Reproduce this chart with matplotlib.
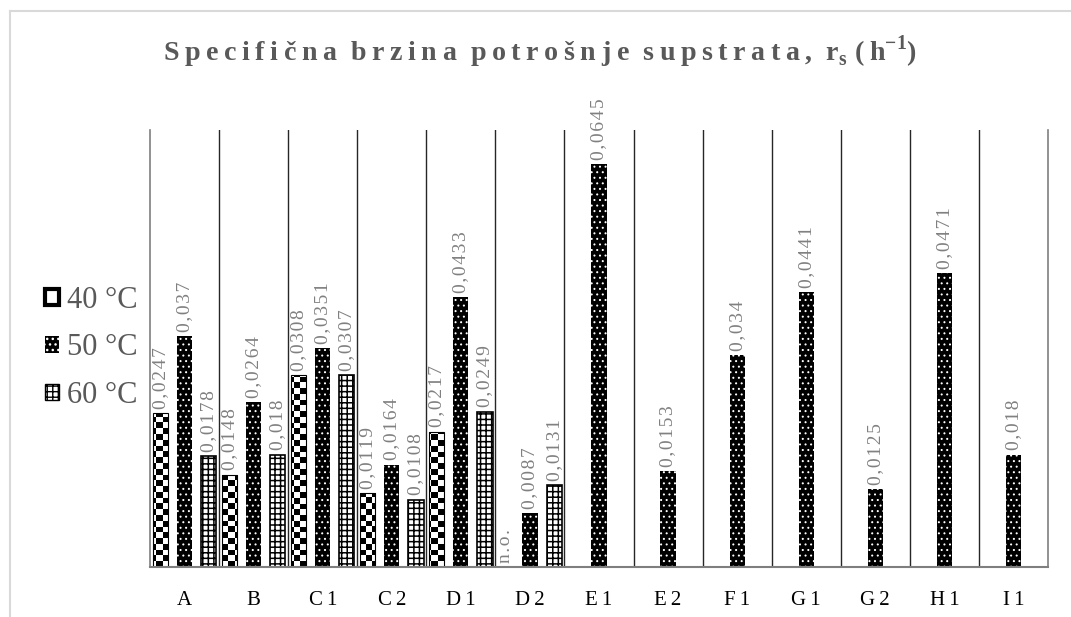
import numpy as np
import matplotlib
matplotlib.use("Agg")
import matplotlib.pyplot as plt
from matplotlib.patches import Patch
from matplotlib.lines import Line2D

plt.rcParams['font.family'] = ['Liberation Serif', 'DejaVu Serif']
plt.rcParams['mathtext.fontset'] = 'custom'
plt.rcParams['mathtext.rm'] = 'Liberation Serif'
plt.rcParams['mathtext.bf'] = 'Liberation Serif:bold'

categories = ["A", "B", "C1", "C2", "D1", "D2", "E1", "E2", "F1", "G1", "G2", "H1", "I1"]
nan = np.nan
r40 = [0.0247, 0.0148, 0.0308, 0.0119, 0.0217, nan, nan, nan, nan, nan, nan, nan, nan]
r50 = [0.037, 0.0264, 0.0351, 0.0164, 0.0433, 0.0087, 0.0645, 0.0153, 0.034, 0.0441, 0.0125, 0.0471, 0.018]
r60 = [0.0178, 0.018, 0.0307, 0.0108, 0.0249, 0.0131, nan, nan, nan, nan, nan, nan, nan]
not_observed = ["D2"]   # 40 °C, "n.o."
series_names = ["40 °C", "50 °C", "60 °C"]

YMAX = 0.07
label_grey = "#808080"
text_grey = "#595959"
HAIR = "\u200a"
THIN = "\u2009"


def spaced(s, sep=HAIR):
    # fake the letter spacing of the original
    return sep.join(s)


fig = plt.figure(figsize=(10.71, 6.17), dpi=100)
ax = fig.add_axes([150 / 1071, 1 - 567 / 617, 898 / 1071, 437 / 617])

x = np.arange(len(categories))
offsets = [-0.35, 0.0, 0.35]
w = 0.22

# checkerboard texture used for 40 °C bars
checker = np.indices((76, 150)).sum(axis=0) % 2

bars40 = ax.bar(x + offsets[0], np.nan_to_num(r40), w, facecolor="none",
                edgecolor="black", linewidth=0.8, zorder=2)
for b, v in zip(bars40, r40):
    if np.isnan(v):
        b.set_visible(False)
        continue
    im = ax.imshow(checker, cmap="gray", extent=[-0.5, len(categories) - 0.5, 0, YMAX],
                   aspect="auto", interpolation="nearest", zorder=1.5)
    im.set_clip_path(b)

with plt.rc_context({"hatch.linewidth": 0.7}):
    bars50 = ax.bar(x + offsets[1], r50, w, facecolor="black", edgecolor="white",
                    hatch="...", linewidth=0, zorder=2)
    h50 = Patch(facecolor="black", edgecolor="white", hatch="...", linewidth=0)
with plt.rc_context({"hatch.linewidth": 1.1}):
    bars60 = ax.bar(x + offsets[2], np.nan_to_num(r60), w, facecolor="white",
                    edgecolor="black", hatch="+++", linewidth=1.2, zorder=2)
for b, v in zip(bars60, r60):
    if np.isnan(v):
        b.set_visible(False)

# value labels
for vals, off in zip([r40, r50, r60], offsets):
    for xi, v in zip(x, vals):
        if np.isnan(v):
            continue
        ax.annotate(spaced(str(v).replace(".", ",")), (xi + off, v), xytext=(0, 3),
                    textcoords="offset points", rotation=90, ha="center", va="bottom",
                    fontsize=14, color=label_grey)
for c in not_observed:
    xi = categories.index(c)
    ax.annotate(spaced("n.o."), (xi + offsets[0], 0), xytext=(0, 3),
                textcoords="offset points", rotation=90, ha="center", va="bottom",
                fontsize=14, color=label_grey)

# category separators
for b in np.arange(0.5, len(categories) - 1, 1.0):
    ax.axvline(b, color="#262626", linewidth=1.0, zorder=0.5)

ax.set_xlim(-0.5, len(categories) - 0.5)
ax.set_ylim(0, YMAX)
ax.set_yticks([])
ax.set_xticks(x)
ax.set_xticklabels([spaced(c, THIN) for c in categories], fontsize=15, color="black")
ax.tick_params(axis="x", length=0, pad=17)
for s in ["left", "right"]:
    ax.spines[s].set_color("#7f7f7f")
    ax.spines[s].set_linewidth(1.2)
ax.spines["bottom"].set_color("#7f7f7f")
ax.spines["bottom"].set_linewidth(1.5)
ax.spines["top"].set_visible(False)

# title
words = ["Specifična", "brzina", "potrošnje", "supstrata,"]
title = "  ".join(spaced(wd, THIN) for wd in words) \
    + "  r$_{\\mathbf{s}}$ " + spaced("(h", THIN) + "$^{\\mathbf{-1}}$)"
fig.text(0.504, 1 - 61 / 617, title, ha="center", va="baseline", fontsize=20.2,
         fontweight="bold", color=text_grey)

# legend on the left
handles = [
    Patch(facecolor="white", edgecolor="black", linewidth=3),
    h50,
    Patch(facecolor="white", edgecolor="black", hatch="+++", linewidth=1),
]
leg = fig.legend(handles, series_names, loc="center left", bbox_to_anchor=(30 / 1071, 1 - 348 / 617),
                 frameon=False, fontsize=22, labelcolor=text_grey, handlelength=0.45,
                 handleheight=0.45, handletextpad=0.25, labelspacing=0.6, borderpad=0)

# chart border (light grey frame)
fig.add_artist(Line2D([9.5 / 1071, 1], [1 - 10.5 / 617] * 2, color="#d9d9d9", linewidth=1.5))
fig.add_artist(Line2D([9.5 / 1071] * 2, [0, 1 - 10.5 / 617], color="#d9d9d9", linewidth=1.5))

fig.savefig("out.png", dpi=100)
